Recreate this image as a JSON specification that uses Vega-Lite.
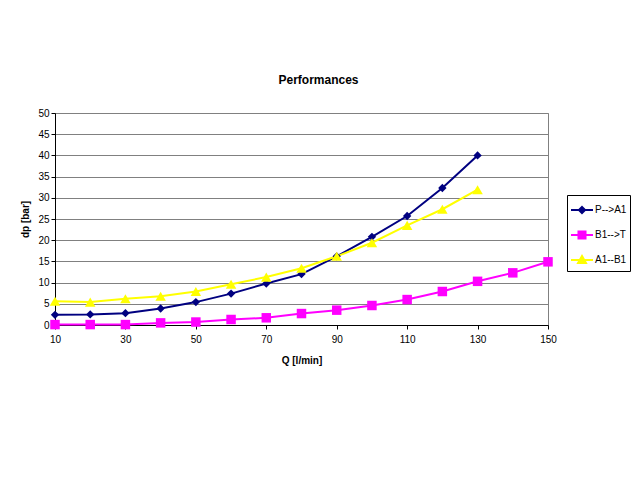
{
  "$schema": "https://vega.github.io/schema/vega-lite/v6.json",
  "autosize": "none",
  "padding": {"left": 55, "top": 113, "right": 92, "bottom": 155},
  "width": 493,
  "height": 212,
  "background": "white",
  "title": {"text": "Performances", "fontSize": 12, "font": "Liberation Sans", "fontWeight": "bold", "anchor": "middle", "dx": 17, "offset": 21, "color": "black"},
  "data": {
    "values": [
      {"Q": 10, "dp": 2.4, "series": "P-->A1"},
      {"Q": 20, "dp": 2.5, "series": "P-->A1"},
      {"Q": 30, "dp": 2.8, "series": "P-->A1"},
      {"Q": 40, "dp": 3.9, "series": "P-->A1"},
      {"Q": 50, "dp": 5.4, "series": "P-->A1"},
      {"Q": 60, "dp": 7.4, "series": "P-->A1"},
      {"Q": 70, "dp": 9.8, "series": "P-->A1"},
      {"Q": 80, "dp": 12.0, "series": "P-->A1"},
      {"Q": 90, "dp": 16.2, "series": "P-->A1"},
      {"Q": 100, "dp": 20.8, "series": "P-->A1"},
      {"Q": 110, "dp": 25.7, "series": "P-->A1"},
      {"Q": 120, "dp": 32.3, "series": "P-->A1"},
      {"Q": 130, "dp": 40.0, "series": "P-->A1"},
      {"Q": 10, "dp": 0.1, "series": "B1-->T"},
      {"Q": 20, "dp": 0.1, "series": "B1-->T"},
      {"Q": 30, "dp": 0.1, "series": "B1-->T"},
      {"Q": 40, "dp": 0.5, "series": "B1-->T"},
      {"Q": 50, "dp": 0.7, "series": "B1-->T"},
      {"Q": 60, "dp": 1.3, "series": "B1-->T"},
      {"Q": 70, "dp": 1.7, "series": "B1-->T"},
      {"Q": 80, "dp": 2.7, "series": "B1-->T"},
      {"Q": 90, "dp": 3.5, "series": "B1-->T"},
      {"Q": 100, "dp": 4.6, "series": "B1-->T"},
      {"Q": 110, "dp": 6.0, "series": "B1-->T"},
      {"Q": 120, "dp": 7.9, "series": "B1-->T"},
      {"Q": 130, "dp": 10.3, "series": "B1-->T"},
      {"Q": 140, "dp": 12.3, "series": "B1-->T"},
      {"Q": 150, "dp": 14.9, "series": "B1-->T"},
      {"Q": 10, "dp": 5.6, "series": "A1--B1"},
      {"Q": 20, "dp": 5.4, "series": "A1--B1"},
      {"Q": 30, "dp": 6.2, "series": "A1--B1"},
      {"Q": 40, "dp": 6.8, "series": "A1--B1"},
      {"Q": 50, "dp": 7.9, "series": "A1--B1"},
      {"Q": 60, "dp": 9.6, "series": "A1--B1"},
      {"Q": 70, "dp": 11.3, "series": "A1--B1"},
      {"Q": 80, "dp": 13.4, "series": "A1--B1"},
      {"Q": 90, "dp": 16.2, "series": "A1--B1"},
      {"Q": 100, "dp": 19.4, "series": "A1--B1"},
      {"Q": 110, "dp": 23.5, "series": "A1--B1"},
      {"Q": 120, "dp": 27.3, "series": "A1--B1"},
      {"Q": 130, "dp": 31.9, "series": "A1--B1"}
    ]
  },
  "encoding": {
    "x": {
      "field": "Q", "type": "quantitative",
      "scale": {"domain": [10, 150], "nice": false, "zero": false},
      "axis": {"title": "Q [l/min]", "values": [10, 30, 50, 70, 90, 110, 130, 150], "grid": false, "labelFlush": false, "labelPadding": 5, "titlePadding": 11}
    },
    "y": {
      "field": "dp", "type": "quantitative",
      "scale": {"domain": [0, 50], "nice": false},
      "axis": {"title": "dp [bar]", "values": [0, 5, 10, 15, 20, 25, 30, 35, 40, 45, 50], "grid": true, "labelFlush": false, "titlePadding": 7}
    }
  },
  "layer": [
    {
      "mark": {"type": "line", "strokeWidth": 2},
      "encoding": {
        "color": {
          "field": "series", "type": "nominal",
          "scale": {"domain": ["P-->A1", "B1-->T", "A1--B1"], "range": ["#000080", "#FF00FF", "#FFFF00"]},
          "legend": {
            "title": null,
            "orient": "none",
            "legendX": 512,
            "legendY": 82,
            "symbolSize": 484,
            "symbolStrokeWidth": 2,
            "labelOffset": 1,
            "rowPadding": 5,
            "padding": 3,
            "strokeColor": "black",
            "fillColor": "white",
            "encode": {
              "symbols": {
                "update": {
                  "shape": {"signal": "datum.value == 'P-->A1' ? 'M-1,0H1M0,-0.28L0.28,0L0,0.28L-0.28,0Z' : datum.value == 'B1-->T' ? 'M-1,0H1M-0.32,-0.32H0.32V0.32H-0.32Z' : 'M-1,0H1M0,-0.36L0.36,0.28H-0.36Z'"},
                  "fill": {"scale": "color", "field": "value"},
                  "stroke": {"scale": "color", "field": "value"},
                  "strokeWidth": {"value": 2}
                }
              }
            }
          }
        }
      }
    },
    {
      "transform": [{"filter": {"field": "series", "equal": "P-->A1"}}],
      "mark": {"type": "point", "shape": "diamond", "filled": true, "opacity": 1, "size": 70, "color": "#000080"}
    },
    {
      "transform": [{"filter": {"field": "series", "equal": "B1-->T"}}],
      "mark": {"type": "point", "shape": "square", "filled": true, "opacity": 1, "size": 90, "color": "#FF00FF"}
    },
    {
      "transform": [{"filter": {"field": "series", "equal": "A1--B1"}}],
      "mark": {"type": "point", "shape": "triangle-up", "filled": true, "opacity": 1, "size": 110, "color": "#FFFF00"}
    }
  ],
  "config": {
    "font": "Liberation Sans",
    "view": {"stroke": "#808080", "strokeWidth": 1},
    "axis": {
      "labelFont": "Liberation Sans",
      "labelFontSize": 10,
      "labelColor": "black",
      "titleFont": "Liberation Sans",
      "titleFontSize": 10,
      "titleFontWeight": "bold",
      "titleColor": "black",
      "domainColor": "black",
      "tickColor": "black",
      "tickSize": 4,
      "gridColor": "#808080",
      "gridOpacity": 1
    },
    "legend": {
      "labelFont": "Liberation Sans",
      "labelFontSize": 10,
      "labelColor": "black"
    }
  }
}
